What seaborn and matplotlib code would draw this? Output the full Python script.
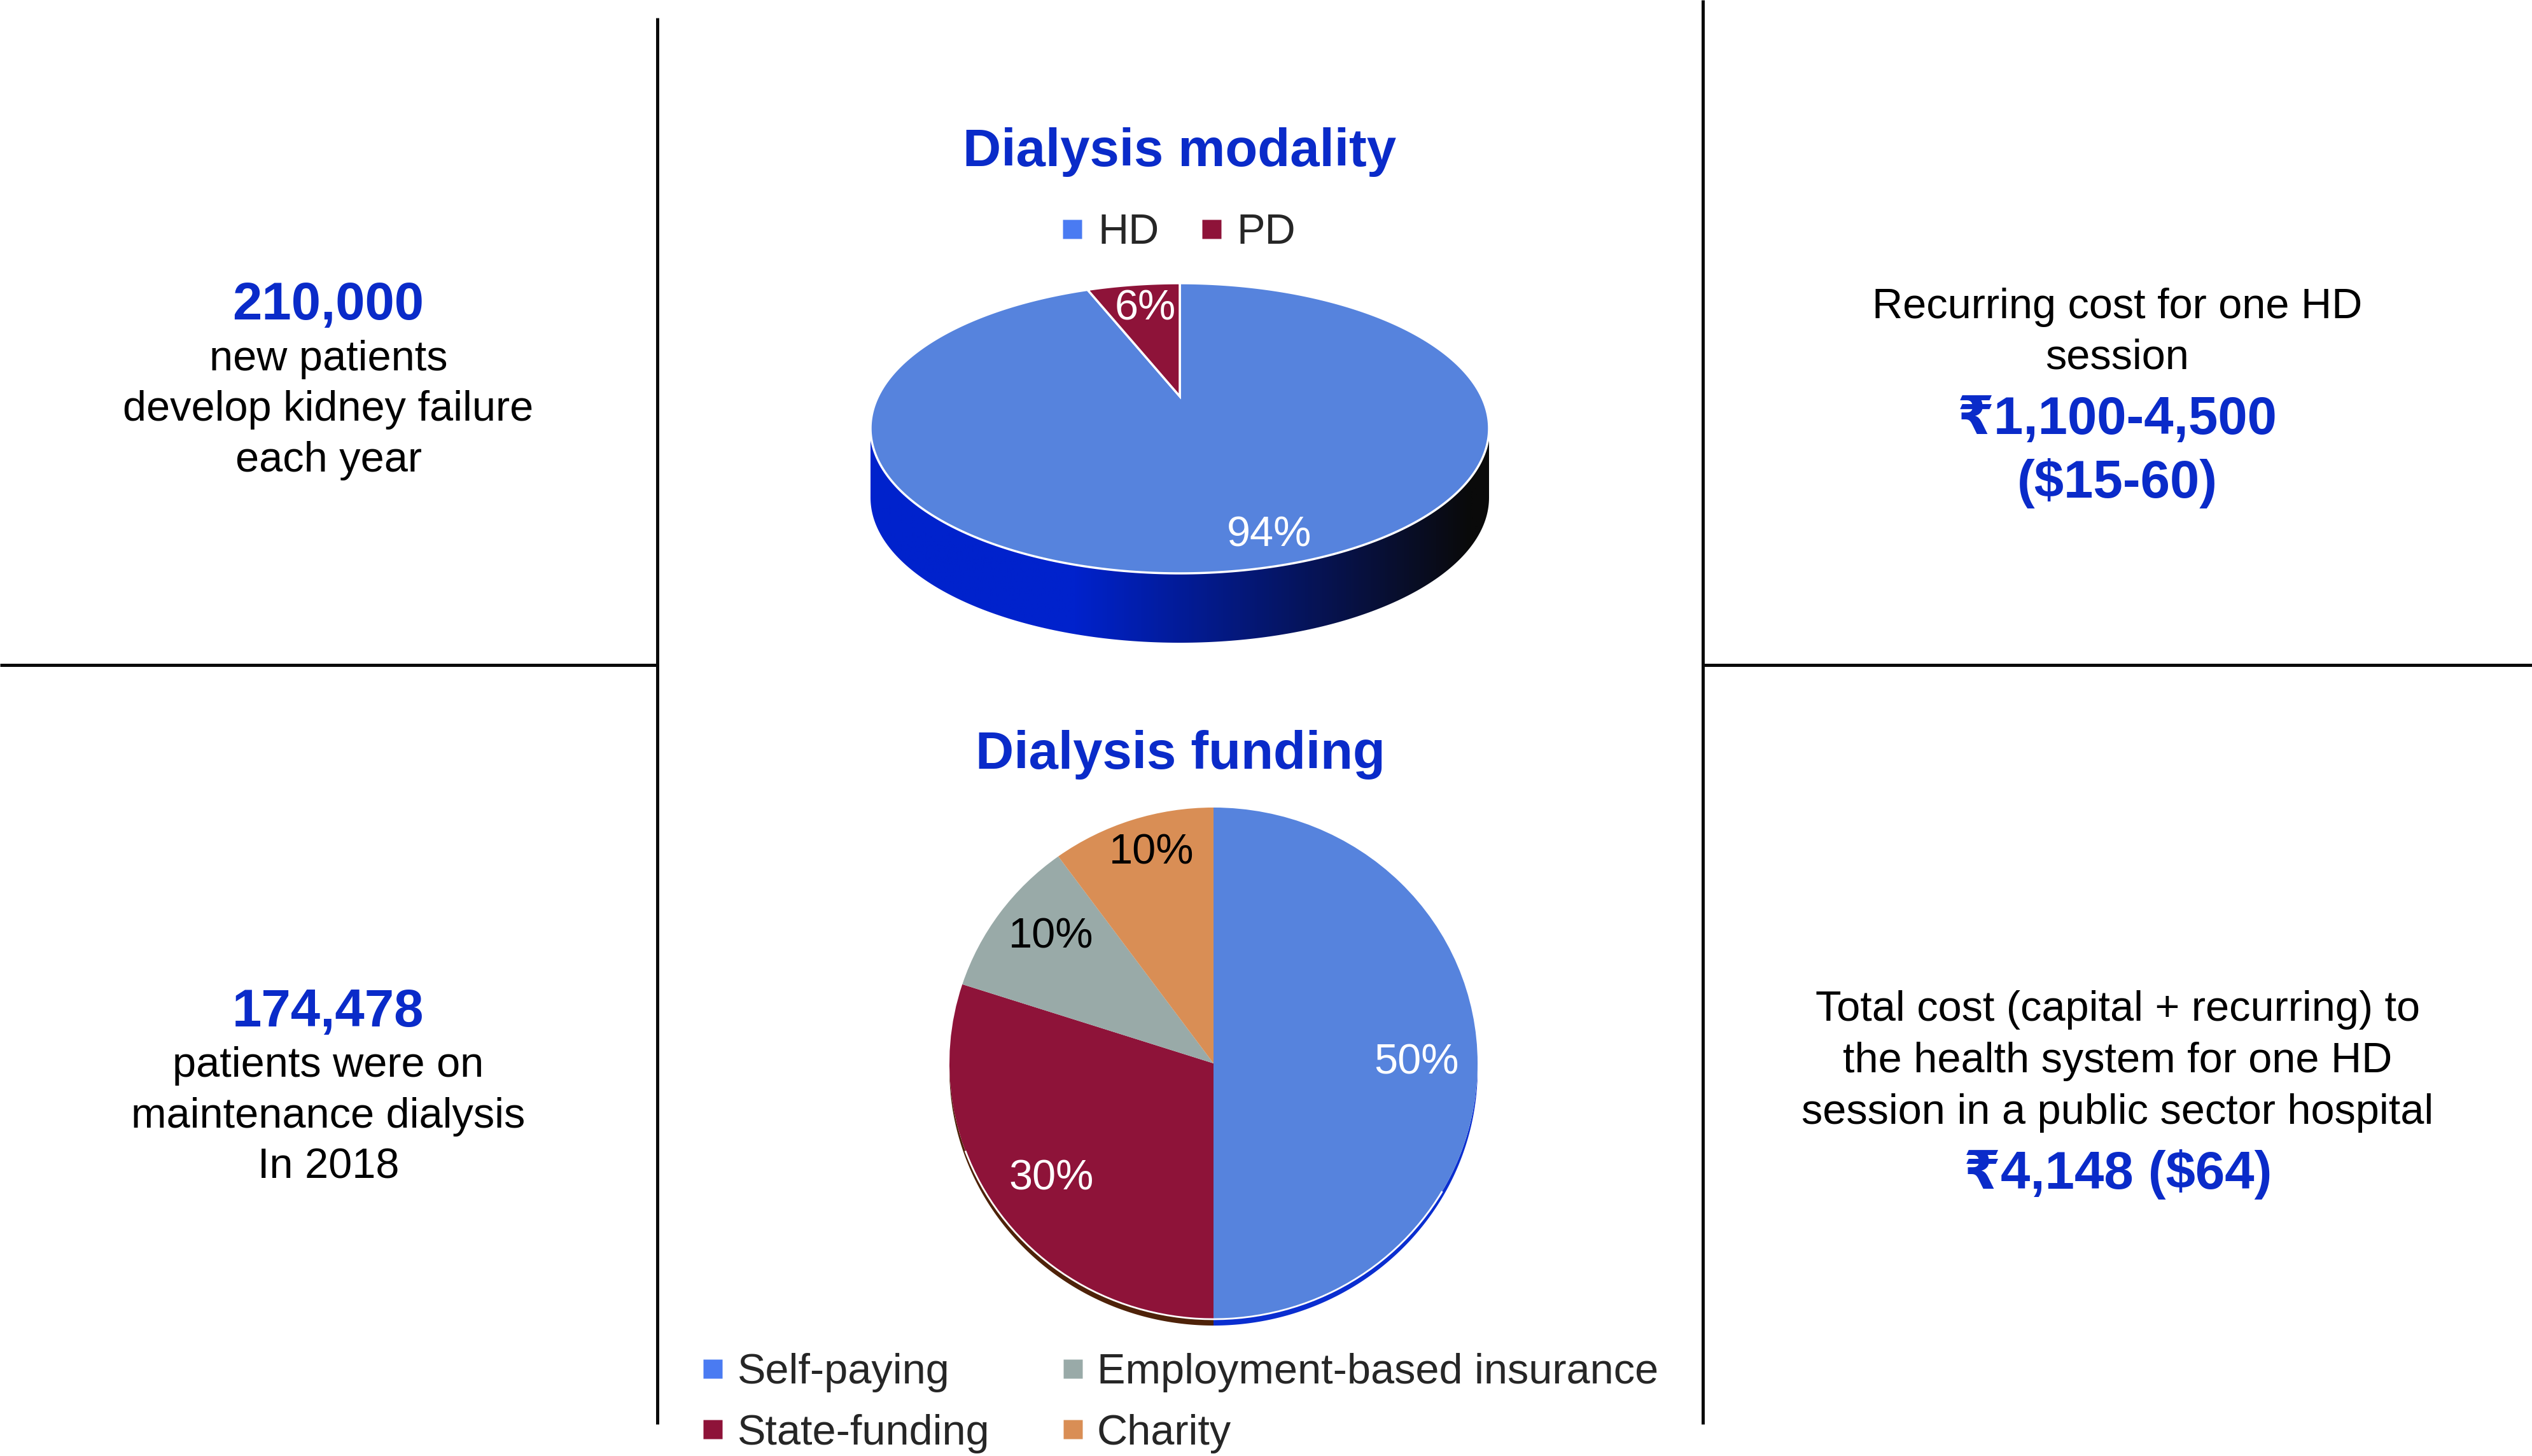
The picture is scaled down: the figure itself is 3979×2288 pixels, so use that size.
import numpy as np
import matplotlib
matplotlib.use('Agg')
import matplotlib.pyplot as plt
import seaborn as sns
from matplotlib.lines import Line2D
from matplotlib.patches import Polygon, Arc
from matplotlib.colors import LinearSegmentedColormap

# ---------------- data ----------------
modality_title = 'Dialysis modality'
modality_labels = ['HD', 'PD']
modality_values = [94, 6]

funding_title = 'Dialysis funding'
funding_labels = ['Self-paying', 'State-funding', 'Employment-based insurance', 'Charity']
funding_values = [50, 30, 10, 10]

left_top_number = '210,000'
left_top_lines = ['new patients', 'develop kidney failure', 'each year']
left_bottom_number = '174,478'
left_bottom_lines = ['patients were on', 'maintenance dialysis', 'In 2018']
right_top_lines = ['Recurring cost for one HD', 'session']
right_top_numbers = ['\u20b91,100-4,500', '($15-60)']
right_bottom_lines = ['Total cost (capital + recurring) to',
                      'the health system for one HD',
                      'session in a public sector hospital']
right_bottom_numbers = ['\u20b94,148 ($64)']

# ---------------- style ----------------
W, H, DPI = 3980, 2288, 100
FAM = ['Liberation Sans', 'DejaVu Sans', 'Noto Sans']
BLUE_TXT = '#0A2BC9'
LINE_C = '#0a0a0a'
mod_colors = ['#5683DD', '#8E1339']
mod_legend_colors = ['#4A7BF2', '#8E1339']
mod_label_colors = ['white', 'white']
mod_label_pos = [(0.29, -0.74), (-0.112, 0.822)]
PERSPECTIVE = 0.22
fund_colors = ['#5683DD', '#8E1339', '#99AAA8', '#D98E55']
fund_legend_colors = ['#4A7BF2', '#8E1339', '#99AAA8', '#D98E55']
fund_side_colors = ['#0A2ED0', '#4E2209', '#5F6E6C', '#8E5A30']
fund_label_colors = ['white', 'white', 'black', 'black']
fund_label_pos = [(0.768, 0.0), (-0.615, -0.451), (-0.615, 0.495), (-0.235, 0.823)]
REG, BOLD = 48, 60

sns.set_theme(style='white')
plt.rcParams['font.family'] = FAM

fig = plt.figure(figsize=(W / DPI, H / DPI), dpi=DPI)
fig.patch.set_facecolor('white')


def fx(x):
    return x / W


def fy(y):
    return 1 - y / H


# ---------------- divider lines ----------------
for xs, ys in [([1033, 1033], [28, 2238]), ([0, 1033], [1045, 1045]),
               ([2676, 2676], [0, 2238]), ([2676, 3980], [1045, 1045])]:
    fig.add_artist(Line2D([fx(v) for v in xs], [fy(v) for v in ys], color=LINE_C,
                          lw=3.6, solid_capstyle='butt', transform=fig.transFigure))


# ---------------- helpers ----------------
def pie_axes(cx, cy, hw, hh):
    return fig.add_axes([fx(cx - hw), fy(cy + hh), 2 * hw / W, 2 * hh / H])


def finish(ax, rx, ry, hw, hh):
    ax.set_aspect('auto')
    ax.set_xlim(-hw / rx, hw / rx)
    ax.set_ylim(-hh / ry, hh / ry)
    ax.axis('off')


def front_segments(t1, t2):
    """Intersect wedge angular range [t1,t2] (deg) with the front half [180,360]."""
    segs = []
    a = t1 % 360
    b = a + (t2 - t1)
    for lo, hi in [(180, 360), (540, 720), (-180, 0)]:
        s, e = max(a, lo), min(b, hi)
        if e > s:
            segs.append((s - (lo - 180), e - (lo - 180)))
    return segs


def side_poly(s, e, d):
    th = np.radians(np.linspace(s, e, 200))
    top = np.column_stack([np.cos(th), np.sin(th)])
    bot = np.column_stack([np.cos(th[::-1]), np.sin(th[::-1]) - d])
    return np.vstack([top, bot])


def tilt(pts, k):
    """Projective tilt that keeps the unit circle but moves its centre to (0, k)."""
    x, y = pts[:, 0], pts[:, 1]
    den = 1 + k * y
    return np.column_stack([x * np.sqrt(1 - k * k) / den, (y + k) / den])


# ---------------- modality pie (3-D look) ----------------
mcx, mcy, mrx, mry, mdepth = 1854, 673, 486, 228, 109
mhw, mhh = 600, 360
axm = pie_axes(mcx, mcy, mhw, mhh)
wedges, texts, autos = axm.pie(modality_values, colors=mod_colors, startangle=90,
                               counterclock=False, autopct='%1.0f%%',
                               wedgeprops=dict(edgecolor='white', linewidth=2.5),
                               textprops=dict(fontsize=REG))
# re-draw the wedges with a perspective tilt (same angles as the library's wedges)
for w in wedges:
    th = np.radians(np.linspace(w.theta1, w.theta2, 400))
    pts = np.vstack([[0, 0], np.column_stack([np.cos(th), np.sin(th)])])
    axm.add_patch(Polygon(tilt(pts, PERSPECTIVE), closed=True,
                          facecolor=w.get_facecolor(), edgecolor='white',
                          linewidth=2.5, zorder=1.5))
    w.set_visible(False)

d_m = mdepth / mry
cmap = LinearSegmentedColormap.from_list(
    'side', [(0, '#0022CC'), (0.33, '#0022CC'), (0.97, '#0A0A0A'), (1, '#0A0A0A')])
for w in wedges[:1]:
    for s, e in front_segments(w.theta1, w.theta2):
        poly = Polygon(side_poly(s, e, d_m), closed=True, facecolor='none',
                       edgecolor='none')
        axm.add_patch(poly)
        im = axm.imshow(np.linspace(0, 1, 512).reshape(1, -1), cmap=cmap,
                        extent=(-1, 1, -1 - d_m, 0), aspect='auto', zorder=0.5)
        im.set_clip_path(poly)
for t, c, p in zip(autos, mod_label_colors, mod_label_pos):
    t.set_color(c)
    t.set_position(p)
    t.set_va('center')
    t.set_ha('center')
    t.set_zorder(3)
finish(axm, mrx, mry, mhw, mhh)

# ---------------- funding pie ----------------
fcx, fcy, frx, fry, fdepth = 1907, 1671, 415, 402, 10
fhw, fhh = 470, 450
axf = pie_axes(fcx, fcy, fhw, fhh)
wedges_f, texts_f, autos_f = axf.pie(funding_values, colors=fund_colors, startangle=90,
                                     counterclock=False, autopct='%1.0f%%',
                                     pctdistance=0.78,
                                     wedgeprops=dict(linewidth=0),
                                     textprops=dict(fontsize=REG))
d_f = fdepth / fry
for w, sc in zip(wedges_f, fund_side_colors):
    for s, e in front_segments(w.theta1, w.theta2):
        axf.add_patch(Polygon(side_poly(s, e, d_f), closed=True, facecolor=sc,
                              edgecolor='none', zorder=0.5))
axf.add_patch(Arc((0, 0), 2, 2, theta1=200, theta2=330, color='white', lw=2, zorder=2))
for t, c, p in zip(autos_f, fund_label_colors, fund_label_pos):
    t.set_color(c)
    t.set_position(p)
    t.set_va('center')
    t.set_ha('center')
finish(axf, frx, fry, fhw, fhh)

# ---------------- titles ----------------
fig.text(fx(1854), fy(261), modality_title, ha='center', va='baseline',
         fontsize=BOLD, fontweight='bold', color=BLUE_TXT)
fig.text(fx(1855), fy(1208), funding_title, ha='center', va='baseline',
         fontsize=BOLD, fontweight='bold', color=BLUE_TXT)

# ---------------- legends ----------------
mh = [Line2D([], [], marker='s', linestyle='none', markersize=21,
             markerfacecolor=c, markeredgecolor='none') for c in mod_legend_colors]
fig.legend(mh, modality_labels, loc='center', bbox_to_anchor=(fx(1851), fy(366)),
           ncol=2, frameon=False, fontsize=REG, handlelength=0.6, handletextpad=0.3,
           columnspacing=0.93, borderpad=0, borderaxespad=0)
fh = [Line2D([], [], marker='s', linestyle='none', markersize=21,
             markerfacecolor=c, markeredgecolor='none') for c in fund_legend_colors]
fig.legend(fh, funding_labels, loc='center', bbox_to_anchor=(fx(1853), fy(2205)),
           ncol=2, frameon=False, fontsize=REG, handlelength=0.6, handletextpad=0.27,
           columnspacing=1.66, labelspacing=0.5, borderpad=0, borderaxespad=0)


# ---------------- side text blocks ----------------
def put(x, y, s, bold=False):
    fig.text(fx(x), fy(y), s, ha='center', va='baseline',
             fontsize=BOLD if bold else REG, fontweight='bold' if bold else 'normal',
             color=BLUE_TXT if bold else 'black', family=FAM)


put(516, 502, left_top_number, bold=True)
for s, y in zip(left_top_lines, [582, 661, 741]):
    put(516, y, s)

put(516, 1613, left_bottom_number, bold=True)
for s, y in zip(left_bottom_lines, [1692, 1772, 1852]):
    put(516, y, s)

for s, y in zip(right_top_lines, [500, 580]):
    put(3327, y, s)
for s, y in zip(right_top_numbers, [682, 782]):
    put(3327, y, s, bold=True)

for s, y in zip(right_bottom_lines, [1604, 1685, 1766]):
    put(3328, y, s)
for s, y in zip(right_bottom_numbers, [1868]):
    put(3328, y, s, bold=True)

fig.savefig('out.png', dpi=DPI, facecolor='white')
